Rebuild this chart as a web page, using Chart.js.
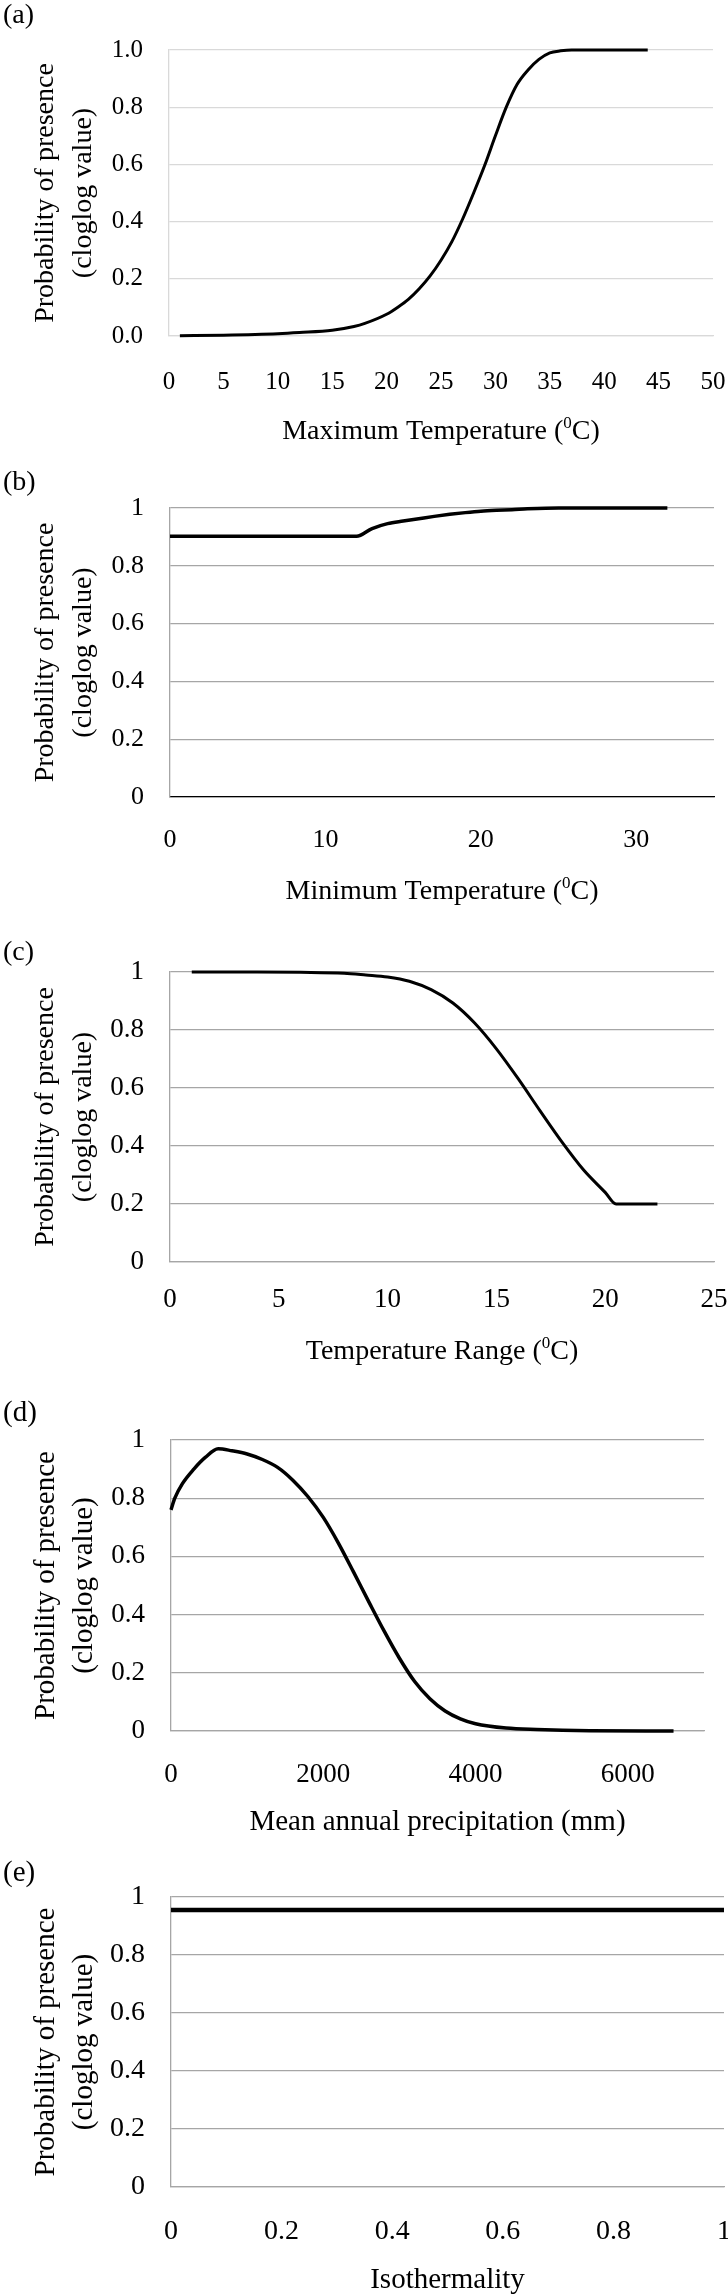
<!DOCTYPE html>
<html>
<head>
<meta charset="utf-8">
<script src="https://cdn.jsdelivr.net/npm/chart.js@4.4.1/dist/chart.umd.min.js"></script>
<style>
  body { margin: 0; background: #fff; width: 728px; height: 2295px; position: relative; overflow: hidden; }
  canvas { position: absolute; left: 0; }
</style>
</head>
<body>
<canvas id="chartA" style="top:0px"></canvas>
<canvas id="chartB" style="top:460px"></canvas>
<canvas id="chartC" style="top:920px"></canvas>
<canvas id="chartD" style="top:1380px"></canvas>
<canvas id="chartE" style="top:1840px"></canvas>
<script>
// --- Data ---

// (a) Maximum temperature
const maxTempX = [1, 5, 10, 12, 15, 17, 18, 20, 21, 22, 23, 24, 25, 26, 27, 28, 29, 30, 31, 32, 33, 34, 35, 36, 37, 40, 44];
const maxTempY = [0.001, 0.003, 0.008, 0.012, 0.02, 0.033, 0.044, 0.076, 0.10, 0.128, 0.165, 0.21, 0.265, 0.33, 0.41, 0.5, 0.595, 0.70, 0.80, 0.88, 0.93, 0.967, 0.99, 0.997, 1.0, 1.0, 1.0];

// (b) Minimum temperature
const minTempX = [0, 12, 13, 14, 15, 16, 17, 18, 19, 20, 21, 22, 23, 25, 32];
const minTempY = [0.902, 0.902, 0.929, 0.946, 0.955, 0.963, 0.971, 0.978, 0.984, 0.989, 0.992, 0.994, 0.997, 1.0, 1.0];

// (c) Temperature range
const rangeX = [1, 4, 6, 8, 9, 10, 11, 12, 13, 14, 15, 16, 17, 18, 19, 20, 20.5, 22.4];
const rangeY = [1.0, 1.0, 0.999, 0.996, 0.99, 0.983, 0.968, 0.939, 0.893, 0.824, 0.735, 0.632, 0.522, 0.415, 0.318, 0.24, 0.2, 0.2];

// (d) Mean annual precipitation
const precipX = [0, 50, 150, 300, 450, 620, 800, 1000, 1200, 1400, 1600, 1800, 2000, 2200, 2400, 2600, 2800, 3000, 3200, 3400, 3600, 3800, 4000, 4400, 4800, 5500, 6600];
const precipY = [0.76, 0.80, 0.85, 0.90, 0.94, 0.97, 0.963, 0.952, 0.933, 0.906, 0.862, 0.805, 0.734, 0.645, 0.545, 0.443, 0.343, 0.25, 0.17, 0.111, 0.069, 0.042, 0.025, 0.01, 0.005, 0.001, 0.0];

// (e) Isothermality
const isoX = [0, 1];
const isoY = [0.955, 0.955];

// x tick values per panel
const ticksA = [0, 5, 10, 15, 20, 25, 30, 35, 40, 45, 50];
const ticksB = [0, 10, 20, 30];
const ticksC = [0, 5, 10, 15, 20, 25];
const ticksD = [0, 2000, 4000, 6000];
const ticksE = [0, 0.2, 0.4, 0.6, 0.8, 1];

// axis titles ('^' marks a superscript piece)
const yTitle = ['Probability of presence', '(cloglog value)'];
const xTitleA = ['Maximum Temperature (', '^0', 'C)'];
const xTitleB = ['Minimum Temperature (', '^0', 'C)'];
const xTitleC = ['Temperature Range (', '^0', 'C)'];
const xTitleD = ['Mean annual precipitation (mm)'];
const xTitleE = ['Isothermality'];

const FONT = '"Liberation Serif", "Times New Roman", serif';
Chart.defaults.font.family = FONT;
Chart.defaults.color = '#000';

// --- Text plugin: panel letter, two-line y title, x title with superscript ---
const panelText = {
    id: 'panelText',
    afterDraw(chart, args, o) {
        const { ctx, chartArea } = chart;
        ctx.save();
        ctx.fillStyle = '#000';

        // panel letter
        ctx.font = `${o.titleSize}px ${FONT}`;
        ctx.textAlign = 'left';
        ctx.textBaseline = 'middle';
        ctx.fillText(o.letter, 3, o.letterY);

        // y title, rotated
        const cy = (chartArea.top + chartArea.bottom) / 2;
        ctx.textAlign = 'center';
        o.yTitleX.forEach((x, i) => {
            ctx.save();
            ctx.translate(x, cy);
            ctx.rotate(-Math.PI / 2);
            ctx.fillText(yTitle[i], 0, 0);
            ctx.restore();
        });

        // x title
        const main = `${o.titleSize}px ${FONT}`;
        const sup = `${Math.round(o.titleSize * 0.62)}px ${FONT}`;
        const parts = o.xTitle.map(p => p.startsWith('^') ? { t: p.slice(1), sup: true } : { t: p, sup: false });
        let total = 0;
        parts.forEach(p => {
            ctx.font = p.sup ? sup : main;
            p.w = ctx.measureText(p.t).width;
            total += p.w;
        });
        const base = chartArea.bottom + o.xTitleOffset + o.titleSize * 0.33;
        let x = (chartArea.left + chartArea.right) / 2 - total / 2;
        ctx.textAlign = 'left';
        ctx.textBaseline = 'alphabetic';
        parts.forEach(p => {
            ctx.font = p.sup ? sup : main;
            ctx.fillText(p.t, x, p.sup ? base - o.titleSize * 0.4 : base);
            x += p.w;
        });
        ctx.restore();
    }
};

function makePanel(id, s) {
    const canvas = document.getElementById(id);
    canvas.width = 728;
    canvas.height = s.height;

    new Chart(canvas, {
        type: 'line',
        data: {
            datasets: [{
                data: s.xs.map((x, i) => ({ x: x, y: s.ys[i] })),
                borderColor: '#000',
                borderWidth: s.lineWidth,
                pointRadius: 0,
                cubicInterpolationMode: 'monotone',
                fill: false,
                clip: 8
            }]
        },
        options: {
            responsive: false,
            animation: false,
            events: [],
            layout: { padding: { top: s.top, right: 728 - s.right, left: 0, bottom: 0 } },
            plugins: {
                legend: { display: false },
                tooltip: { enabled: false },
                panelText: {
                    letter: s.letter,
                    letterY: s.letterY,
                    titleSize: s.titleSize,
                    yTitleX: [46, 84],
                    xTitle: s.xTitle,
                    xTitleOffset: s.xTitleOffset
                }
            },
            scales: {
                x: {
                    type: 'linear',
                    min: s.xMin,
                    max: s.xMax,
                    grid: { display: false, drawTicks: false },
                    border: { color: s.xBorder, width: 1.3 },
                    ticks: {
                        autoSkip: false,
                        maxRotation: 0,
                        padding: s.xLabelOffset - s.tickSize * 0.6,
                        font: { size: s.tickSize },
                        callback: v => String(Math.round(v * 10) / 10)
                    },
                    afterBuildTicks: scale => {
                        scale.ticks = s.xTicks.map(v => ({ value: v }));
                    },
                    afterFit: scale => {
                        scale.height = s.height - s.bottom;
                        scale.paddingLeft = 0;
                        scale.paddingRight = 0;
                    }
                },
                y: {
                    min: 0,
                    max: 1,
                    grid: { color: s.gridColor, lineWidth: 1.3, drawTicks: false },
                    border: { color: s.gridColor, width: 1.3 },
                    ticks: {
                        stepSize: 0.2,
                        padding: 26,
                        font: { size: s.tickSize },
                        callback: s.yFormat
                    },
                    afterFit: scale => { scale.width = s.left; }
                }
            }
        },
        plugins: [panelText]
    });
}

const oneDecimal = v => v.toFixed(1);
const plain = v => String(Math.round(v * 10) / 10);

// --- Init ---
makePanel('chartA', {
    xs: maxTempX, ys: maxTempY, xTicks: ticksA, letter: '(a)', xTitle: xTitleA,
    height: 460, top: 50, bottom: 336, left: 169, right: 713,
    xMin: 0, xMax: 50, yFormat: oneDecimal,
    tickSize: 25, titleSize: 28, letterY: 16, xLabelOffset: 46, xTitleOffset: 94,
    gridColor: '#d9d9d9', xBorder: '#d9d9d9', lineWidth: 3
});
makePanel('chartB', {
    xs: minTempX, ys: minTempY, xTicks: ticksB, letter: '(b)', xTitle: xTitleB,
    height: 460, top: 48, bottom: 337, left: 170, right: 714,
    xMin: 0, xMax: 35, yFormat: plain,
    tickSize: 26, titleSize: 28, letterY: 23, xLabelOffset: 43, xTitleOffset: 93,
    gridColor: '#a6a6a6', xBorder: '#000', lineWidth: 3.5
});
makePanel('chartC', {
    xs: rangeX, ys: rangeY, xTicks: ticksC, letter: '(c)', xTitle: xTitleC,
    height: 460, top: 52, bottom: 342, left: 170, right: 714,
    xMin: 0, xMax: 25, yFormat: plain,
    tickSize: 27, titleSize: 28, letterY: 33, xLabelOffset: 38, xTitleOffset: 88,
    gridColor: '#a6a6a6', xBorder: '#a6a6a6', lineWidth: 3
});
makePanel('chartD', {
    xs: precipX, ys: precipY, xTicks: ticksD, letter: '(d)', xTitle: xTitleD,
    height: 460, top: 60, bottom: 351, left: 171, right: 704,
    xMin: 0, xMax: 7000, yFormat: plain,
    tickSize: 27, titleSize: 29, letterY: 33, xLabelOffset: 44, xTitleOffset: 89,
    gridColor: '#a6a6a6', xBorder: '#a6a6a6', lineWidth: 3.5
});
makePanel('chartE', {
    xs: isoX, ys: isoY, xTicks: ticksE, letter: '(e)', xTitle: xTitleE,
    height: 455, top: 57, bottom: 347, left: 171, right: 724,
    xMin: 0, xMax: 1, yFormat: plain,
    tickSize: 28, titleSize: 29, letterY: 33, xLabelOffset: 45, xTitleOffset: 91,
    gridColor: '#a6a6a6', xBorder: '#a6a6a6', lineWidth: 4.5
});
</script>
</body>
</html>
